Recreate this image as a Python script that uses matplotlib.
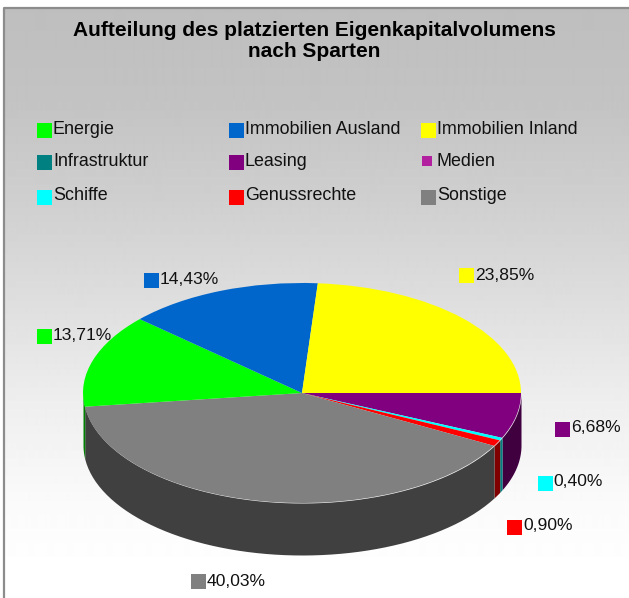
import numpy as np
import matplotlib
matplotlib.use("Agg")
import matplotlib.pyplot as plt
from matplotlib.patches import Rectangle

# --- data ---
sparten = ["Leasing", "Medien", "Schiffe", "Genussrechte", "Sonstige",
           "Energie", "Immobilien Ausland", "Immobilien Inland"]
anteile = [6.68, 0.0, 0.40, 0.90, 40.03, 13.71, 14.43, 23.85]
farben = ["#800080", "#b3209f", "#00ffff", "#ff0000", "#808080",
          "#00ff00", "#0066cc", "#ffff00"]
seiten = ["#400040", "#591050", "#008080", "#800000", "#404040",
          "#008000", "#003366", "#808000"]

titel = "Aufteilung des platzierten Eigenkapitalvolumens\nnach Sparten"
legende = ["Energie", "Immobilien Ausland", "Immobilien Inland",
           "Infrastruktur", "Leasing", "Medien",
           "Schiffe", "Genussrechte", "Sonstige"]
legende_farben = ["#00ff00", "#0066cc", "#ffff00",
                  "#008080", "#800080", "#b3209f",
                  "#00ffff", "#ff0000", "#808080"]

W, H = 629, 598
plt.rcParams["font.family"] = ["Liberation Sans", "DejaVu Sans"]
fig = plt.figure(figsize=(W / 100, H / 100), dpi=100, facecolor="white")

# hintergrund + texte in pixelkoordinaten
bg = fig.add_axes([0, 0, 1, 1])
bg.set_xlim(0, W)
bg.set_ylim(H, 0)
bg.axis("off")
ys = np.arange(8, H)
grau = np.interp(ys, [8, 100, 200, 300, 400, 500, 570], [190, 195, 207, 222, 238, 250, 255])
bg.imshow(grau[:, None], cmap="gray", vmin=0, vmax=255, aspect="auto",
          extent=(4, W, H, 8), interpolation="bilinear")
bg.set_xlim(0, W)
bg.set_ylim(H, 0)
bg.plot([3.5, 3.5, W], [H, 7.5, 7.5], color="#8c8c8c", lw=1.6, solid_capstyle="butt")

bg.text(314, 41, titel, ha="center", va="center", fontsize=15, fontweight="bold",
        color="#000000", linespacing=1.17)

# legende
leg_x = [(37, 53), (229, 245), (421, 437)]
leg_y = [(123, 129), (155, 161), (190, 195)]
for i, (name, c) in enumerate(zip(legende, legende_farben)):
    mx, tx = leg_x[i % 3]
    my, ty = leg_y[i // 3]
    if name == "Medien":
        bg.add_patch(Rectangle((mx + 1, my + 1), 10, 10, color=c, lw=0))
    else:
        bg.add_patch(Rectangle((mx, my), 15, 15, color=c, lw=0))
    bg.text(tx, ty, name, ha="left", va="center", fontsize=12.9, color="#111111")

# torte: ellipse mit mitte (302, 393), rx 219, ry 110, tiefe 52
cx, cy, rx, ry, tiefe = 302, 393, 219, 110, 52 / 110
xl, yl = (-1.2, 1.2), (-1.7, 1.2)
pos = [(cx + xl[0] * rx) / W, 1 - (cy - yl[0] * ry) / H,
       (xl[1] - xl[0]) * rx / W, (yl[1] - yl[0]) * ry / H]
ax = fig.add_axes(pos)
ax.patch.set_alpha(0)

grenzen = np.cumsum([0] + anteile) / 100 * 360
for j in range(len(anteile)):
    a0, a1 = grenzen[j], min(grenzen[j + 1], 180)
    if a1 <= a0:
        continue
    t = np.radians(np.linspace(a0, a1, 60))
    x = np.cos(t)
    y = -np.sin(t)
    ax.fill_between(x, y - tiefe, y, color=seiten[j], lw=0)

ax.pie(anteile, colors=farben, startangle=0, counterclock=False, radius=1,
       wedgeprops={"lw": 0})
ax.set_aspect("auto")
ax.set_xlim(*xl)
ax.set_ylim(*yl)
ax.axis("off")

# beschriftungen der segmente
lab_pos = {"Leasing": (555, 422, 571, 427), "Schiffe": (538, 476, 553, 481),
           "Genussrechte": (507, 520, 523, 526), "Sonstige": (191, 574, 207, 581),
           "Energie": (37, 329, 53, 335), "Immobilien Ausland": (144, 273, 160, 279),
           "Immobilien Inland": (459, 268, 475, 276)}
top = fig.add_axes([0, 0, 1, 1])
top.set_xlim(0, W)
top.set_ylim(H, 0)
top.axis("off")
for name, wert, c in zip(sparten, anteile, farben):
    if name not in lab_pos:
        continue
    mx, my, tx, ty = lab_pos[name]
    top.add_patch(Rectangle((mx, my), 15, 15, color=c, lw=0))
    top.text(tx, ty, f"{wert:.2f}".replace(".", ",") + "%", ha="left", va="center",
             fontsize=12.6, color="#111111")

fig.savefig("out.png", dpi=100)
